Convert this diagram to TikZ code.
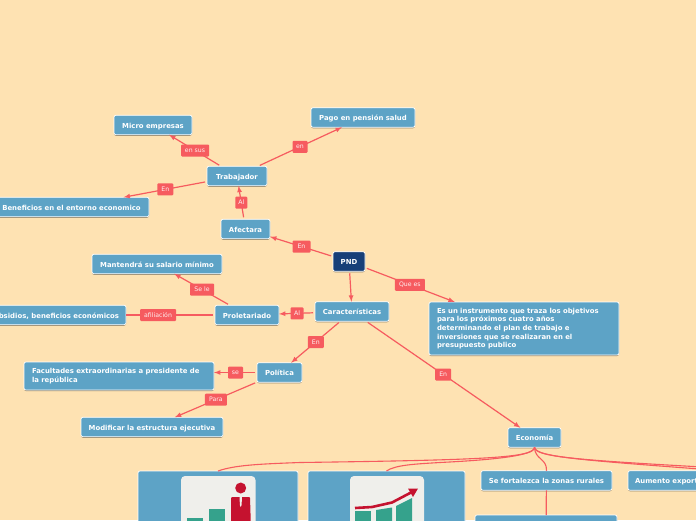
\documentclass[tikz,border=0pt]{standalone}
\usepackage{fontspec}
\setmainfont{DejaVu Sans}
\usepackage{xcolor}
\usetikzlibrary{calc, positioning, shadows}

\definecolor{pagebg}{HTML}{FEE2B2}
\definecolor{boxblue}{HTML}{5DA3C6}
\definecolor{rootblue}{HTML}{173F78}
\definecolor{linkred}{HTML}{F65B5F}
\definecolor{cardgray}{HTML}{EFEFEB}
\definecolor{iconred}{HTML}{C5122F}
\definecolor{icongreen}{HTML}{35A28C}

\tikzset{
    panel/.style={draw=white, line width=0.7pt, fill=boxblue, rounded corners=2pt, text=white, align=left,
        font=\fontsize{6.9}{8.6}\selectfont\bfseries, inner sep=0pt, outer sep=0pt, minimum height=19.5pt,
        drop shadow={shadow xshift=0pt, shadow yshift=-1pt, opacity=0.4, fill=black}},
    topic/.style={panel, text height=7pt, text depth=1pt},
    tag/.style={fill=linkred, rounded corners=1pt, text=white!90!linkred, inner sep=0pt, minimum height=12pt,
        font=\fontsize{6.2}{6.5}\selectfont},
    link/.style={draw=linkred, line width=1.2pt, shorten <=2pt},
    fan/.style={draw=linkred, line width=1.1pt}
}

\begin{document}
\begin{tikzpicture}[>=latex, x=1pt, y=-1pt]
    \useasboundingbox (0,0) rectangle (696,520);
    \clip (0,0) rectangle (696,520);
    \fill[pagebg] (0,0) rectangle (696,520);

    % Nodos superiores
    \node[topic, fill=rootblue, minimum width=32pt] (pnd) at (349,261.5) {PND};
    \node[topic, minimum width=49pt] (afectara) at (245.5,229) {Afectara};
    \node[topic, minimum width=60pt] (trabajador) at (237,176) {Trabajador};
    \node[topic, minimum width=78pt] (micro) at (153,125) {Micro empresas};
    \node[topic, minimum width=104pt] (pago) at (363,117.5) {Pago en pensión salud};
    \node[topic, minimum width=155pt] (beneficios) at (71.5,207) {Beneficios en el entorno economico};

    % Nodos del centro
    \node[topic, minimum width=74pt] (caracteristicas) at (352,311.5) {Características};
    \node[topic, minimum width=64pt] (proletariado) at (247,315) {Proletariado};
    \node[topic, minimum width=130pt] (salario) at (157,264) {Mantendrá su salario mínimo};
    \node[topic, minimum width=144pt] (subsidios) at (54,315) {Subsidios, beneficios económicos};
    \node[topic, minimum width=45pt] (politica) at (279.5,372.5) {Política};
    \node[panel, minimum width=190pt, minimum height=28pt, text width=174pt] (facultades) at (119,376)
        {Facultades extraordinarias a presidente de\\la república};
    \node[topic, minimum width=142pt] (estructura) at (152,427) {Modificar la estructura ejecutiva};
    \node[panel, minimum width=190pt, minimum height=53pt, text width=174pt] (instrumento) at (524,328.5)
        {Es un instrumento que traza los objetivos\\para los próximos cuatro años\\determinando el plan de trabajo e\\inversiones que se realizaran en el\\presupuesto publico};

    % Nodos inferiores
    \node[topic, minimum width=53pt] (economia) at (534.5,437.5) {Economía};
    \node[topic, minimum width=131pt] (rurales) at (546.5,480.5) {Se fortalezca la zonas rurales};
    \node[topic, minimum width=190pt, text width=176pt] (aumento) at (723,480.5) {Aumento exportaciones};
    \node[panel, minimum width=142pt, minimum height=30pt] (detalle) at (546,530) {};
    \node[panel, minimum width=160pt, minimum height=70pt] (imagen) at (218,506) {};
    \node[panel, minimum width=157pt, minimum height=70pt] (grafica) at (386.5,506) {};
    \coordinate (lejos) at (790,472);

    % Conectores con etiqueta
    \draw[link, ->] (pnd) -- node[tag, minimum width=18pt] {En} (afectara);
    \draw[link, ->] (afectara) -- node[tag, minimum width=12pt] {Al} (trabajador);
    \draw[link, ->] (trabajador) -- node[tag, minimum width=28pt] {en sus} (micro);
    \draw[link, ->] (trabajador) -- node[tag, minimum width=15pt] {en} (pago);
    \draw[link, ->] (trabajador) -- node[tag, minimum width=16pt] {En} (beneficios);
    \draw[link, ->] (pnd) -- (caracteristicas);
    \draw[link, ->] (pnd) -- node[tag, minimum width=30pt] {Que es} (instrumento);
    \draw[link, ->] (caracteristicas) -- node[tag, minimum width=13pt] {Al} (proletariado);
    \draw[link, ->] (proletariado) -- node[tag, minimum width=24pt] {Se le} (salario);
    \draw[link] (proletariado) -- node[tag, pos=0.64, minimum width=36pt] {afiliación} (subsidios);
    \draw[link, ->] (caracteristicas) -- node[tag, minimum width=16pt] {En} (politica);
    \draw[link, ->] (politica) -- node[tag, minimum width=15pt] {se} (politica -| facultades.east);
    \draw[link, ->] (politica) -- node[tag, minimum width=22pt] {Para} (estructura);
    \draw[link, ->] (caracteristicas) -- node[tag, minimum width=16pt] {En} (economia);

    % Ramas de Economia
    \draw[fan] (economia.south) .. controls (535,458) and (480,460) .. (300,462.5) .. controls (260,464) and (235,465) .. (imagen.north);
    \draw[fan] (economia.south) .. controls (535,456) and (490,460) .. (440,462.5) .. controls (415,464) and (395,465) .. (grafica.north);
    \draw[fan] (economia.south) .. controls (535,460) and (547,458) .. (rurales.north);
    \draw[fan] (economia.south) .. controls (535,457) and (580,460) .. (aumento.north);
    \draw[fan] (economia.south) .. controls (535,459) and (600,461) .. (lejos);
    \draw[fan, line width=1.2pt] (rurales) -- (detalle);

    % Figura de la persona
    \fill[cardgray, rounded corners=4pt] (181,476) rectangle (255.5,540);
    \fill[icongreen] (187,518) rectangle (203,530);
    \fill[icongreen] (209,508.5) rectangle (225,530);
    \fill[iconred] (240.7,488) circle (5.5);
    \fill[iconred, rounded corners=1pt] (231,497) -- (250,497) -- (251,530) -- (231,530) -- cycle;
    \fill[cardgray] (239.5,496) -- (242,496) -- (241.6,505) -- (240.7,507) -- (239.9,505) -- cycle;

    % Figura de la grafica
    \fill[cardgray, rounded corners=4pt] (350,476) rectangle (424,540);
    \fill[icongreen] (355,511) -- (371,511) -- (371,530) -- (355,530) -- cycle;
    \fill[icongreen] (376,510) -- (392,507.5) -- (392,530) -- (376,530) -- cycle;
    \fill[icongreen] (396,506) -- (412,498) -- (412,530) -- (396,530) -- cycle;
    \draw[iconred, line width=2.6pt] (355,508) -- (372,507) -- (392,502.5) -- (411,492.5);
    \fill[iconred] (418,488.5) -- (408,488.5) -- (413,497) -- cycle;
\end{tikzpicture}
\end{document}
